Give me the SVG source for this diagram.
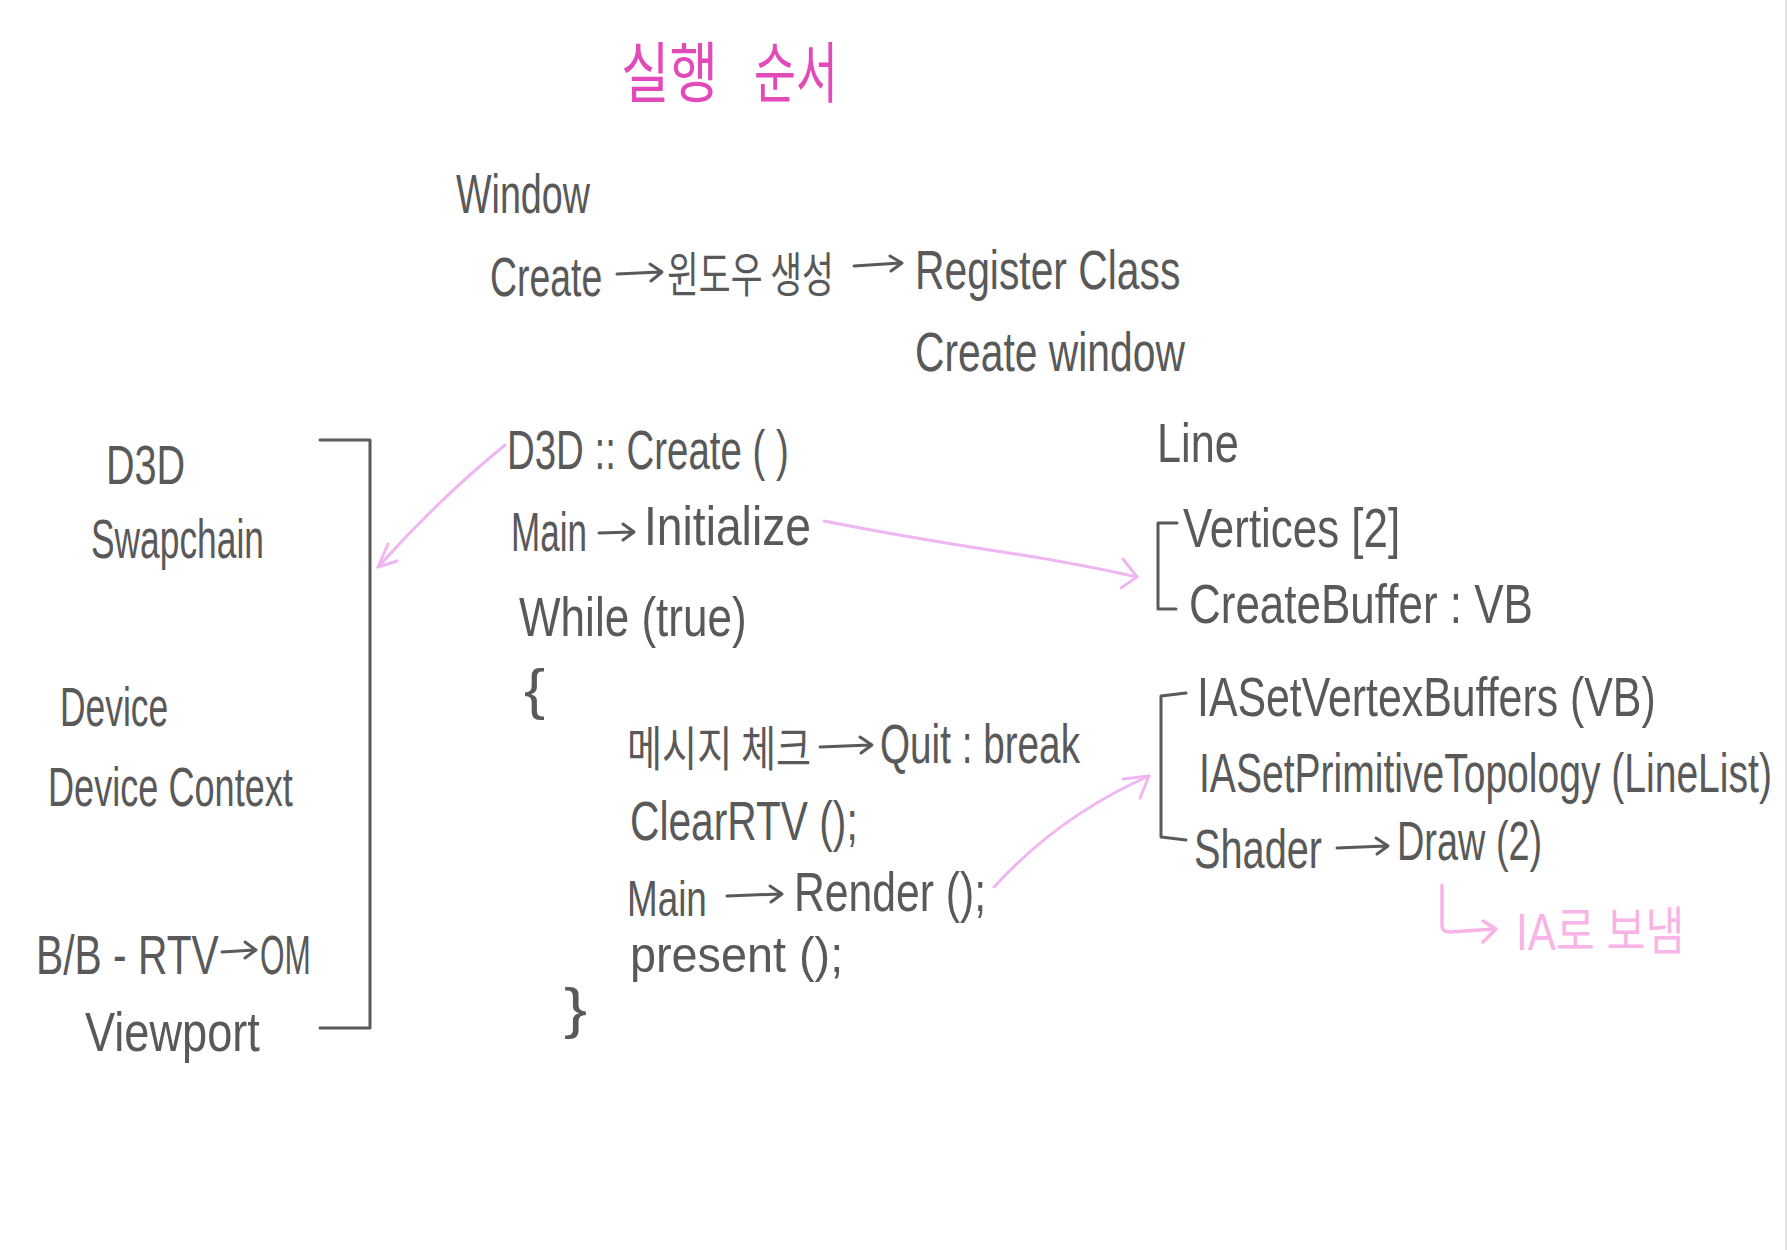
<svg xmlns="http://www.w3.org/2000/svg" width="1787" height="1250" viewBox="0 0 1787 1250">
<style>
.t{font-family:"Liberation Sans","Noto Sans CJK KR",sans-serif;fill:#595959;font-size:56px}
.s{font-size:50px}
.k{font-family:"Noto Sans CJK KR",sans-serif;fill:#595959;font-size:48px}
.ttl{font-family:"Noto Sans CJK KR",sans-serif;fill:#e24ab9;font-size:66px}
.note{font-family:"Liberation Sans","Noto Sans CJK KR",sans-serif;fill:#f8b4e6;font-size:52px}
.br{fill:none;stroke:#5a5a5a;stroke-width:3;stroke-linecap:round;stroke-linejoin:round}
.ga{fill:none;stroke:#5a5a5a;stroke-width:3;stroke-linecap:round;stroke-linejoin:round}
.pa{fill:none;stroke:#efb6f2;stroke-width:3;stroke-linecap:round;stroke-linejoin:round}
.pn{fill:none;stroke:#f8b4e6;stroke-width:3.5;stroke-linecap:round;stroke-linejoin:round}
</style>
<rect width="1787" height="1250" fill="#ffffff"/>
<rect x="1785" y="0" width="2" height="1250" fill="#e3e3e3"/>

<g id="title">
<text class="ttl" transform="translate(621 97) scale(0.66 1)" textLength="147" lengthAdjust="spacingAndGlyphs">실행</text>
<text class="ttl" transform="translate(754 97) scale(0.66 1)" textLength="127" lengthAdjust="spacingAndGlyphs">순서</text>
</g>

<g id="window"><text class="t" transform="translate(456 213) scale(0.66 1)" textLength="203" lengthAdjust="spacingAndGlyphs">Window</text></g>

<g id="create-row">
<text class="t" transform="translate(490 296) scale(0.66 1)" textLength="170" lengthAdjust="spacingAndGlyphs">Create</text>
<path class="ga" d="M617 274 L660 272 M650 264 L662 272 L651 281"/>
<text class="k" transform="translate(667 292) scale(0.66 1)" textLength="253" lengthAdjust="spacingAndGlyphs">윈도우 생성</text>
<path class="ga" d="M854 266 L900 263 M890 256 L902 263 L891 271"/>
<text class="t" transform="translate(915 289) scale(0.66 1)" textLength="402" lengthAdjust="spacingAndGlyphs">Register Class</text>
</g>

<g id="create-window"><text class="t" transform="translate(915 371) scale(0.66 1)" textLength="409" lengthAdjust="spacingAndGlyphs">Create window</text></g>

<g id="d3d-create"><text class="t" transform="translate(507 469) scale(0.66 1)" textLength="427" lengthAdjust="spacingAndGlyphs">D3D :: Create ( )</text></g>

<g id="main-initialize">
<text class="t" transform="translate(511 551) scale(0.66 1)" textLength="115" lengthAdjust="spacingAndGlyphs">Main</text>
<path class="ga" d="M599 533 L632 532 M623 524 L634 532 L623 540"/>
<text class="t" transform="translate(644 545) scale(0.66 1)" textLength="253" lengthAdjust="spacingAndGlyphs">Initialize</text>
</g>

<g id="while"><text class="t" transform="translate(519 636) scale(0.66 1)" textLength="345" lengthAdjust="spacingAndGlyphs">While (true)</text></g>
<g id="brace-open"><text class="t" transform="translate(524 708) scale(0.66 1)" textLength="32" lengthAdjust="spacingAndGlyphs">{</text></g>

<g id="message-check">
<text class="k" transform="translate(627 766) scale(0.66 1)" textLength="279" lengthAdjust="spacingAndGlyphs">메시지 체크</text>
<path class="ga" d="M820 747 L870 745 M860 737 L872 745 L861 753"/>
<text class="t" transform="translate(880 763) scale(0.66 1)" textLength="303" lengthAdjust="spacingAndGlyphs">Quit : break</text>
</g>

<g id="clear-rtv"><text class="t" transform="translate(630 840) scale(0.66 1)" textLength="345" lengthAdjust="spacingAndGlyphs">ClearRTV ();</text></g>

<g id="main-render">
<text class="t s" transform="translate(627 916) scale(0.66 1)" textLength="121" lengthAdjust="spacingAndGlyphs">Main</text>
<path class="ga" d="M727 896 L780 894 M770 886 L782 894 L771 902"/>
<text class="t" transform="translate(794 911) scale(0.66 1)" textLength="291" lengthAdjust="spacingAndGlyphs">Render ();</text>
</g>

<g id="present"><text class="t s" transform="translate(630 972) scale(0.66 1)" textLength="323" lengthAdjust="spacingAndGlyphs">present ();</text></g>
<g id="brace-close"><text class="t" transform="translate(564 1027) scale(0.66 1)" textLength="35" lengthAdjust="spacingAndGlyphs">}</text></g>

<g id="d3d-list">
<text class="t" transform="translate(106 484) scale(0.66 1)" textLength="120" lengthAdjust="spacingAndGlyphs">D3D</text>
<text class="t" transform="translate(91 558) scale(0.66 1)" textLength="262" lengthAdjust="spacingAndGlyphs">Swapchain</text>
<text class="t" transform="translate(60 726) scale(0.66 1)" textLength="164" lengthAdjust="spacingAndGlyphs">Device</text>
<text class="t" transform="translate(48 806) scale(0.66 1)" textLength="371" lengthAdjust="spacingAndGlyphs">Device Context</text>
<text class="t" transform="translate(36 974) scale(0.66 1)" textLength="277" lengthAdjust="spacingAndGlyphs">B/B - RTV</text>
<path class="ga" d="M222 952 L254 950 M245 942 L256 950 L245 958"/>
<text class="t" transform="translate(260 974) scale(0.66 1)" textLength="77" lengthAdjust="spacingAndGlyphs">OM</text>
<text class="t" transform="translate(85 1051) scale(0.66 1)" textLength="265" lengthAdjust="spacingAndGlyphs">Viewport</text>
<path class="br" d="M320 440 H370 V1028 H320"/>
</g>

<g id="line">
<text class="t" transform="translate(1157 462) scale(0.66 1)" textLength="124" lengthAdjust="spacingAndGlyphs">Line</text>
</g>

<g id="line-buffer">
<path class="br" d="M1177 523 H1158 V609 H1176"/>
<text class="t" transform="translate(1183 547) scale(0.66 1)" textLength="329" lengthAdjust="spacingAndGlyphs">Vertices [2]</text>
<text class="t" transform="translate(1189 623) scale(0.66 1)" textLength="521" lengthAdjust="spacingAndGlyphs">CreateBuffer : VB</text>
</g>

<g id="line-render">
<path class="br" d="M1186 693 L1161 696 V837 L1186 840"/>
<text class="t" transform="translate(1197 716) scale(0.66 1)" textLength="695" lengthAdjust="spacingAndGlyphs">IASetVertexBuffers (VB)</text>
<text class="t" transform="translate(1199 792) scale(0.66 1)" textLength="868" lengthAdjust="spacingAndGlyphs">IASetPrimitiveTopology (LineList)</text>
<text class="t" transform="translate(1194 868) scale(0.66 1)" textLength="194" lengthAdjust="spacingAndGlyphs">Shader</text>
<path class="ga" d="M1337 848 L1386 846 M1376 838 L1388 846 L1377 854"/>
<text class="t" transform="translate(1397 860) scale(0.66 1)" textLength="220" lengthAdjust="spacingAndGlyphs">Draw (2)</text>
</g>

<g id="ia-note">
<text class="note" transform="translate(1516 950) scale(0.66 1)" textLength="255" lengthAdjust="spacingAndGlyphs">IA로 보냄</text>
</g>

<g id="connectors">
<path class="pa" d="M505 445 Q440 498 378 567"/>
<path class="pa" d="M388 544 L378 567 L397 561"/>
<path class="pa" d="M824 521 Q900 536 996 551 Q1070 562 1137 577"/>
<path class="pa" d="M1123 559 L1137 577 L1121 588"/>
<path class="pa" d="M994 887 Q1060 815 1149 776"/>
<path class="pa" d="M1123 779 L1149 776 L1140 798"/>
<path class="pn" d="M1442 885 V926 Q1442 932 1450 932 L1494 929"/>
<path class="pn" d="M1483 921 L1496 929 L1483 942"/>
</g>
</svg>
